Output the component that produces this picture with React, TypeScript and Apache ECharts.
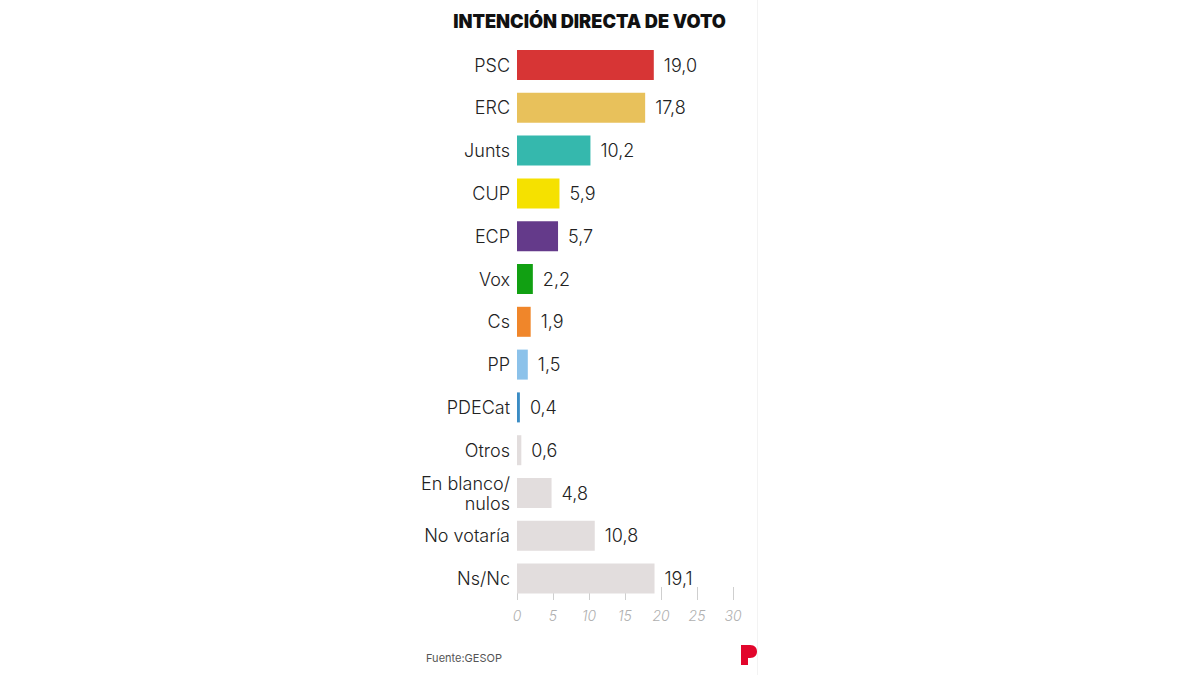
import React, { useEffect, useRef } from "react";
import * as echarts from "echarts";

const categories = ["PSC", "ERC", "Junts", "CUP", "ECP", "Vox", "Cs", "PP", "PDECat", "Otros", "En blanco/\nnulos", "No votaría", "Ns/Nc"];
const values = [19.0, 17.8, 10.2, 5.9, 5.7, 2.2, 1.9, 1.5, 0.4, 0.6, 4.8, 10.8, 19.1];
const colors = ["#d73535", "#e8c15b", "#35b8ad", "#f5e100", "#643a8a", "#11a012", "#f0862a", "#8cc2ea", "#3b8cc4", "#e2dddd", "#e2dddd", "#e2dddd", "#e2dddd"];
const title = "INTENCIÓN DIRECTA DE VOTO";
const source = "Fuente:GESOP";

echarts.graphic.registerShape(
  "plogo",
  echarts.graphic.extendPath("M0 0 H9 C14 0 16 3 16 6.5 C16 10 14 13 9 13 H7 V20 H0 Z", {})
);

export default function App() {
  const ref = useRef<HTMLDivElement>(null);
  useEffect(() => {
    const chart = echarts.init(ref.current!, null, { renderer: "svg" });
    const font = "Inter, Roboto, sans-serif";
    chart.setOption({
      animation: false,
      backgroundColor: "#ffffff",
      graphic: [
        { type: "line", shape: { x1: 757.5, y1: 0, x2: 757.5, y2: 675 }, style: { stroke: "#f3f3f3", lineWidth: 1 } },
        {
          type: "text",
          x: 589.5,
          y: 21,
          style: {
            text: title,
            align: "center",
            verticalAlign: "middle",
            fontFamily: font,
            fontWeight: 900,
            fontSize: 18.2,
            fill: "#111",
          },
        },
        {
          type: "text",
          x: 426,
          y: 658,
          style: { text: source, verticalAlign: "middle", fontFamily: font, fontSize: 11, fill: "#555" },
        },
        { type: "plogo", x: 741, y: 645, scaleX: 1, scaleY: 1, style: { fill: "#e2062c" } },
      ],
      grid: { left: 517, right: 467, top: 43.6, bottom: 75, containLabel: false },
      xAxis: {
        type: "value",
        min: 0,
        max: 30,
        interval: 5,
        splitLine: { show: false },
        axisLine: { show: false },
        axisTick: { show: true, inside: true, length: 13, lineStyle: { color: "#cfcfcf", width: 1 } },
        axisLabel: { fontFamily: font, fontStyle: "italic", fontWeight: 300, fontSize: 14, color: "#b0b0b0", margin: 8 },
      },
      yAxis: {
        type: "category",
        inverse: true,
        data: categories.map((c) => (c.includes("\n") ? { value: c, textStyle: { padding: [9, 0, 0, 0] } } : c)),
        axisLine: { show: false },
        axisTick: { show: false },
        axisLabel: { fontFamily: font, fontWeight: 300, fontSize: 18, color: "#222", margin: 7, lineHeight: 20 },
      },
      series: [
        {
          type: "bar",
          barWidth: 30,
          data: values.map((v, i) => ({ value: v, itemStyle: { color: colors[i] } })),
          label: {
            show: true,
            position: "right",
            distance: 10,
            fontFamily: font,
            fontWeight: 300,
            fontSize: 18,
            color: "#222",
            formatter: (p: any) => p.value.toFixed(1).replace(".", ","),
          },
        },
      ],
    });
    return () => chart.dispose();
  }, []);
  return <div ref={ref} style={{ position: "fixed", left: 0, top: 0, width: 1200, height: 675 }} />;
}
